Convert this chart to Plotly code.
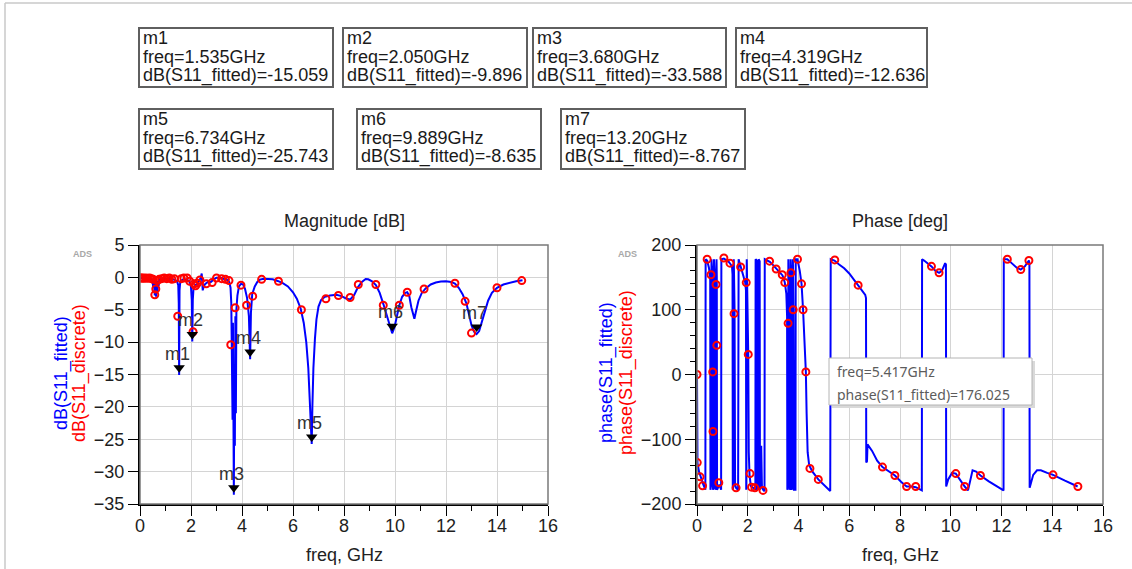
import plotly.graph_objects as go

W, H = 1132, 569
FONT = "Liberation Sans, Arial, sans-serif"
TIP_FONT = "Noto Sans, Open Sans, sans-serif"

# ---------------- data ----------------
# S11 magnitude, rational fit (GHz, dB)
mag_fit_freq = [
    0.00, 0.10, 0.20, 0.30, 0.40, 0.48, 0.52, 0.54, 0.58, 0.60, 0.63, 0.65, 0.68, 0.70, 0.73, 0.76,
    0.90, 1.05, 1.20, 1.35, 1.45, 1.50, 1.52, 1.535, 1.55, 1.58, 1.70, 1.85, 1.95, 2.00, 2.03, 2.05,
    2.07, 2.10, 2.16, 2.25, 2.33, 2.38, 2.42, 2.46, 2.50, 2.56, 2.66, 2.78, 2.88, 3.00, 3.15, 3.30,
    3.42, 3.50, 3.55, 3.58, 3.60, 3.61, 3.63, 3.645, 3.66, 3.68, 3.70, 3.72, 3.74, 3.76, 3.78, 3.82,
    3.88, 3.96, 4.05, 4.12, 4.20, 4.27, 4.319, 4.35, 4.40, 4.50, 4.60, 4.70, 4.85, 5.00, 5.20, 5.40,
    5.60, 5.80, 6.00, 6.15, 6.30, 6.42, 6.52, 6.60, 6.66, 6.70, 6.734, 6.76, 6.80, 6.86, 6.92, 7.00,
    7.10, 7.25, 7.45, 7.70, 7.90, 8.10, 8.25, 8.40, 8.55, 8.70, 8.85, 8.95, 9.10, 9.25, 9.40, 9.55,
    9.70, 9.80, 9.889, 9.98, 10.08, 10.17, 10.28, 10.40, 10.48, 10.56, 10.64, 10.72, 10.76, 10.82,
    10.92, 11.05, 11.20, 11.40, 11.60, 11.80, 12.00, 12.20, 12.35, 12.50, 12.65, 12.80, 12.90, 13.00,
    13.10, 13.20, 13.30, 13.40, 13.52, 13.65, 13.80, 14.00, 14.25, 14.50, 14.75, 15.00,
]
mag_fit_db = [
    -0.10, -0.12, -0.15, -0.10, -0.20, -0.30, -1.60, -0.40, -2.80, -0.60, -3.00, -0.70, -2.20, -0.50, -1.40, -0.30,
    -0.20, -0.20, -0.25, -0.35, -0.60, -1.20, -4.00, -15.059, -2.00, -0.60, -0.30, -0.35, -0.70, -1.50, -3.50, -9.896,
    -3.50, -1.60, -1.20, -1.00, -0.40, -0.10, 0.60, -2.00, -1.40, -1.00, -0.70, -0.70, -0.35, -0.05, -0.05, -0.20,
    -0.40, -0.70, -1.60, -4.00, -12.0, -5.00, -22.0, -7.00, -28.0, -33.588, -14.0, -26.0, -6.00, -21.0, -5.00, -2.80,
    -1.40, -1.00, -1.10, -1.80, -3.20, -6.00, -12.636, -5.50, -2.60, -1.40, -0.70, -0.35, -0.20, -0.20, -0.30, -0.55,
    -0.90, -1.40, -2.30, -3.30, -4.80, -7.00, -10.0, -14.0, -19.0, -23.0, -25.743, -20.0, -14.0, -9.50, -6.50, -4.50,
    -3.50, -3.00, -2.80, -2.70, -2.90, -3.30, -3.40, -2.70, -1.50, -0.70, -0.25, -0.30, -0.60, -1.20, -2.40, -4.20,
    -6.30, -7.80, -8.635, -7.70, -5.80, -4.30, -3.00, -2.40, -2.30, -2.90, -4.60, -6.20, -6.40, -5.30,
    -3.60, -2.40, -1.70, -1.10, -0.80, -0.65, -0.60, -0.70, -0.95, -1.60, -2.60, -4.00, -5.60, -7.40,
    -8.40, -8.767, -8.30, -7.00, -5.20, -3.60, -2.40, -1.60, -1.10, -0.80, -0.60, -0.45,
]

# S11 magnitude, discrete samples (GHz, dB)
mag_disc_freq = [
    0.00, 0.05, 0.10, 0.15, 0.22, 0.30, 0.38, 0.45, 0.52, 0.58, 0.62, 0.68, 0.75, 0.85, 0.95, 1.05,
    1.15, 1.25, 1.35, 1.48, 1.62, 1.72, 1.85, 1.95, 2.08, 2.12, 2.18, 2.25, 2.35, 2.60, 2.83, 3.00,
    3.20, 3.35, 3.49, 3.56, 3.73, 3.96, 4.18, 4.42, 4.77, 5.43, 6.33, 7.29, 7.78, 8.24, 8.56, 9.25,
    9.54, 10.17, 10.48, 11.14, 12.35, 12.75, 13.00, 14.00, 14.97,
]
mag_disc_db = [
    -0.10, -0.10, -0.10, -0.15, -0.10, -0.15, -0.10, -0.20, -0.30, -2.70, -1.80, -0.50, -0.30, -0.20, -0.10, -0.20,
    -0.10, -0.30, -0.20, -6.00, -0.20, -0.10, -0.10, -0.60, -8.40, -1.00, -1.30, -0.90, -0.40, -1.00, -0.80, -0.10,
    -0.20, -0.30, -0.50, -10.4, -4.70, -1.20, -4.30, -2.90, -0.30, -0.60, -5.00, -3.30, -2.80, -3.10, -1.10, -1.10,
    -4.30, -4.30, -2.30, -1.80, -0.90, -3.70, -8.60, -1.60, -0.50,
]

# S11 phase, rational fit (GHz, deg)
ph_fit_freq = [
    0.00, 0.005, 0.015, 0.02, 0.08, 0.15, 0.25, 0.33, 0.34, 0.40, 0.47, 0.52, 0.53, 0.56, 0.57, 0.62,
    0.63, 0.66, 0.67, 0.72, 0.73, 0.76, 0.77, 0.78, 0.79, 0.88, 0.95, 0.96, 1.06, 1.15, 1.25, 1.33,
    1.38, 1.40, 1.41, 1.44, 1.45, 1.48, 1.50, 1.55, 1.62, 1.64, 1.72, 1.82, 1.90, 1.93, 1.94, 1.96,
    2.00, 2.02, 2.04, 2.07, 2.12, 2.22, 2.30, 2.31, 2.36, 2.37, 2.42, 2.43, 2.47, 2.48, 2.52, 2.53,
    2.56, 2.62, 2.66, 2.67, 2.87, 3.00, 3.13, 3.25, 3.37, 3.46, 3.52, 3.55, 3.56, 3.59, 3.60, 3.64,
    3.65, 3.68, 3.69, 3.72, 3.73, 3.77, 3.78, 3.80, 3.82, 3.88, 3.89, 3.96, 4.05, 4.12, 4.18, 4.23,
    4.29, 4.32, 4.36, 4.42, 4.55, 4.78, 5.00, 5.25, 5.27, 5.35, 5.417, 5.60, 5.80, 6.00, 6.20, 6.35,
    6.50, 6.63, 6.66, 6.67, 6.70, 6.72, 6.90, 7.10, 7.31, 7.55, 7.80, 8.05, 8.26, 8.45, 8.62, 8.86,
    8.87, 8.95, 9.10, 9.24, 9.40, 9.54, 9.65, 9.78, 9.81, 9.82, 9.90, 10.05, 10.20, 10.40, 10.55, 10.68,
    10.76, 10.86, 11.00, 11.17, 11.50, 11.80, 12.08, 12.09, 12.23, 12.40, 12.60, 12.76, 12.92, 13.08,
    13.10, 13.11, 13.25, 13.40, 13.55, 13.80, 14.03, 14.50, 15.00,
]
ph_fit_deg = [
    0, -78, -80, -137, -150, -160, -170, -178, 178, 176, 165, 150, -178, -170, 178, 150,
    -178, -175, 178, 140, -178, -172, 178, 150, -178, -170, -178, 178, 179, 177, 174, 170,
    166, 155, -178, -172, 178, 100, -170, -176, -178, 178, 168, 155, 142, 130, -178, 178,
    80, 30, -120, -155, -172, -176, -178, 178, 176, -178, -176, 178, 175, -178, -150, -110,
    -175, -179, -180, 178, 174, 169, 163, 159, 153, 142, 125, 90, -178, -170, 178, 100,
    -178, -175, 178, 150, -178, -170, 178, 100, -178, -178, 178, 178, 160, 140, 100, 60,
    4, -60, -120, -140, -150, -162, -170, -180, 178, 177, 176.025, 170, 164, 156, 146, 138,
    130, 123, 118, -136, -134, -108, -118, -133, -143, -150, -156, -166, -173, -173, -174, -179,
    178, 176, 172, 167, 160, 157, 160, 172, 170, -173, -162, -152, -153, -165, -173, -179,
    -165, -148, -150, -156, -165, -172, -179, 178, 178, 172, 165, 162, 167, 176,
    172, -175, -155, -148, -148, -152, -155, -164, -173,
]

# S11 phase, discrete samples (GHz, deg)
ph_disc_freq = [
    0.00, 0.01, 0.12, 0.22, 0.40, 0.55, 0.62, 0.63, 0.75, 0.78, 0.86, 1.06, 1.30, 1.46, 1.54, 1.72,
    1.94, 2.02, 2.09, 2.15, 2.28, 2.60, 2.86, 3.12, 3.36, 3.46, 3.59, 3.70, 3.79, 3.96, 4.12, 4.18,
    4.29, 4.45, 4.78, 5.43, 6.35, 7.31, 7.80, 8.26, 8.62, 9.24, 9.54, 10.20, 10.55, 11.17, 12.23,
    12.76, 13.08, 14.03, 15.01,
]
ph_disc_deg = [
    0, -136, -158, -172, 178, 154, 4, -88, 139, 45, -167, 180, 172, 94, -175, 166,
    142, 31, -153, -174, -175, -179, 175, 163, 154, 142, 79, 157, 100, 178, 140, 100,
    4, -145, -162, 177, 138, -143, -156, -173, -173, 167, 157, -153, -173, -156, 178,
    162, 176, -155, -173,
]

# Magnitude markers
marker_names = ["m1", "m2", "m3", "m4", "m5", "m6", "m7"]
marker_freq = [1.535, 2.050, 3.680, 4.319, 6.734, 9.889, 13.20]
marker_db = [-15.059, -9.896, -33.588, -12.636, -25.743, -8.635, -8.767]

# Phase cursor readout
cursor_freq = 5.417
cursor_phase = 176.025

# ---------------- layout geometry (pixels) ----------------
L_X0, L_X1 = 140, 548
R_X0, R_X1 = 697, 1103
P_Y0, P_Y1 = 245, 504
MAG_RANGE = [-35, 5]

# marker readout boxes: x0, y0, x1, y1
box_px = [
    (139, 28, 333, 87), (343, 28, 527, 87), (533, 28, 726, 87), (736, 28, 927, 87),
    (139, 109, 333, 169), (357, 109, 541, 169), (561, 109, 745, 169),
]


def X(px):
    return px / W


def Y(py):
    return 1 - py / H


def fmt4(v):
    # four significant digits, as the readouts show
    if abs(v) >= 10:
        return f"{v:.2f}"
    return f"{v:.3f}"


def label(px, py, text, size=18, color="#222222", family=FONT, angle=0, xanchor="center"):
    return dict(x=X(px), y=Y(py), xref="paper", yref="paper", text=text, showarrow=False,
                xanchor=xanchor, yanchor="middle", textangle=angle,
                font=dict(family=family, size=size, color=color))


fig = go.Figure()

BLUE = "#0000ff"
RED = "#ff0000"

fig.add_trace(go.Scatter(x=mag_fit_freq, y=mag_fit_db, mode="lines",
                         line=dict(color=BLUE, width=2), xaxis="x", yaxis="y",
                         hoverinfo="skip", showlegend=False))
fig.add_trace(go.Scatter(x=mag_disc_freq, y=mag_disc_db, mode="markers",
                         marker=dict(symbol="circle-open", size=7, color=RED, line=dict(width=2, color=RED)),
                         xaxis="x", yaxis="y", hoverinfo="skip", showlegend=False))
fig.add_trace(go.Scatter(x=ph_fit_freq, y=ph_fit_deg, mode="lines",
                         line=dict(color=BLUE, width=2), xaxis="x2", yaxis="y2",
                         hoverinfo="skip", showlegend=False))
fig.add_trace(go.Scatter(x=ph_disc_freq, y=ph_disc_deg, mode="markers",
                         marker=dict(symbol="circle-open", size=7, color=RED, line=dict(width=2, color=RED)),
                         xaxis="x2", yaxis="y2", hoverinfo="skip", showlegend=False))

# downward marker triangles, tip placed on the marker value
TRI = 10
tip_px = (TRI / 2) * 2 ** 0.5
db_per_px = (MAG_RANGE[1] - MAG_RANGE[0]) / (P_Y1 - P_Y0)
fig.add_trace(go.Scatter(x=marker_freq, y=[v + tip_px * db_per_px for v in marker_db], mode="markers",
                         marker=dict(symbol="triangle-down", size=TRI, color="black", line=dict(width=0)),
                         xaxis="x", yaxis="y", hoverinfo="skip", showlegend=False))

annotations = []
shapes = []

# plot frames (top/right edges in grey)
for xr, yr in (("x", "y"), ("x2", "y2")):
    shapes.append(dict(type="rect", xref=f"{xr} domain", yref=f"{yr} domain", x0=0, x1=1, y0=0, y1=1,
                       line=dict(color="#7a7a7a", width=1.5), layer="above"))

for name, f, v in zip(marker_names, marker_freq, marker_db):
    annotations.append(dict(x=f, y=v, xref="x", yref="y", text=name, showarrow=False,
                            xanchor="center", yanchor="middle",
                            xshift=-2, yshift=21, font=dict(family=FONT, size=18, color="#333333")))

# readout boxes
for (x0, y0, x1, y1), name, f, v in zip(box_px, marker_names, marker_freq, marker_db):
    shapes.append(dict(type="rect", xref="paper", yref="paper", x0=X(x0), x1=X(x1), y0=Y(y1), y1=Y(y0),
                       line=dict(color="#5f5f5f", width=2), fillcolor="white", layer="above"))
    lines = [name, f"freq={fmt4(f)}GHz", f"dB(S11_fitted)={v:.3f}"]
    for i, t in enumerate(lines):
        annotations.append(label(x0 + 2, y0 + 10 + 18.7 * i, t, color="#1a1a1a", xanchor="left"))

# titles and axis captions
annotations += [
    label((L_X0 + L_X1) / 2, 221, "Magnitude [dB]"),
    label((R_X0 + R_X1) / 2, 221, "Phase [deg]"),
    label((L_X0 + L_X1) / 2, 555, "freq, GHz"),
    label((R_X0 + R_X1) / 2, 555, "freq, GHz"),
    label(61, 373, "dB(S11_fitted)", color=BLUE, angle=-90),
    label(79, 373, "dB(S11_discrete)", color=RED, angle=-90),
    label(606, 373, "phase(S11_fitted)", color=BLUE, angle=-90),
    label(626, 373, "phase(S11_discrete)", color=RED, angle=-90),
    label(82, 254, "<b>ADS</b>", size=9, color="#a8a8a8"),
    label(628, 254, "<b>ADS</b>", size=9, color="#a8a8a8"),
]

# cursor readout on the phase plot
tx0, ty0, tx1, ty1 = 829, 358, 1032, 405
shapes.append(dict(type="rect", xref="paper", yref="paper", x0=X(tx0 + 3), x1=X(tx1 + 3), y0=Y(ty1 + 3),
                   y1=Y(ty0 + 3), line=dict(width=0), fillcolor="#d9d9d9", layer="above"))
shapes.append(dict(type="rect", xref="paper", yref="paper", x0=X(tx0), x1=X(tx1), y0=Y(ty1), y1=Y(ty0),
                   line=dict(color="#b4b4b4", width=1), fillcolor="white", layer="above"))
annotations += [
    label(tx0 + 6, 372, f"freq={cursor_freq:.3f}GHz", size=14, color="#5c5c5c", family=TIP_FONT, xanchor="left"),
    label(tx0 + 6, 394, f"phase(S11_fitted)={cursor_phase:.3f}", size=14, color="#5c5c5c", family=TIP_FONT,
          xanchor="left"),
]

# window border
shapes += [
    dict(type="line", xref="paper", yref="paper", x0=X(5), x1=1, y0=Y(3), y1=Y(3),
         line=dict(color="#c8c8c8", width=1.5), layer="above"),
    dict(type="line", xref="paper", yref="paper", x0=X(5), x1=X(5), y0=0, y1=Y(3),
         line=dict(color="#c8c8c8", width=1.5), layer="above"),
]

tickfont = dict(family=FONT, size=18, color="#1e1e1e")
common = dict(ticks="outside", ticklen=10, tickwidth=1, tickcolor="black", showline=True,
              linecolor="black", linewidth=2, showgrid=True, gridcolor="#d4d4d4", gridwidth=1,
              zeroline=False, tickfont=tickfont, fixedrange=True, automargin=False)
xminor = dict(dtick=1, ticks="outside", ticklen=5, tickwidth=1, tickcolor="black", showgrid=False)

fig.update_layout(
    width=W, height=H, margin=dict(l=0, r=0, t=0, b=0, pad=0, autoexpand=False),
    paper_bgcolor="white", plot_bgcolor="white", showlegend=False,
    xaxis=dict(domain=[X(L_X0), X(L_X1)], range=[0, 16], tick0=0, dtick=2, minor=xminor,
               anchor="y", ticklabelstandoff=-6, **common),
    yaxis=dict(domain=[Y(P_Y1), Y(P_Y0)], range=MAG_RANGE, tick0=0, dtick=5, anchor="x", **common),
    xaxis2=dict(domain=[X(R_X0), X(R_X1)], range=[0, 16], tick0=0, dtick=2, minor=xminor,
                anchor="y2", ticklabelstandoff=-6, **common),
    yaxis2=dict(domain=[Y(P_Y1), Y(P_Y0)], range=[-200, 200], tick0=0, dtick=100, anchor="x2",
                minor=dict(dtick=20, ticks="outside", ticklen=5, tickwidth=1, tickcolor="black",
                           showgrid=False), **common),
    annotations=annotations,
    shapes=shapes,
)

fig.write_html("out.html")
